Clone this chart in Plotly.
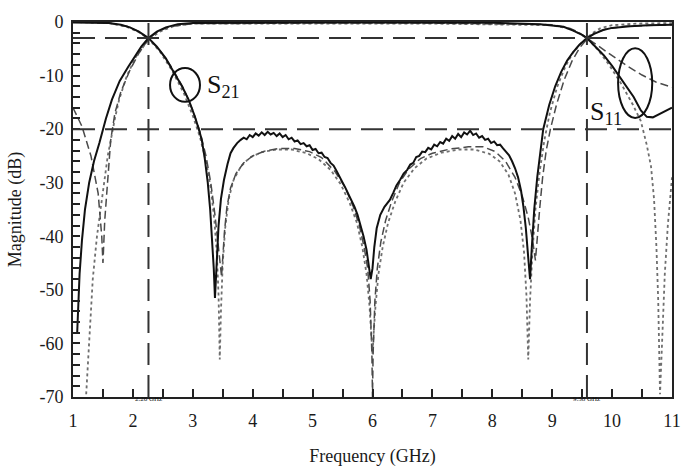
import plotly.graph_objects as go

# ---------------- data ----------------
# measured (solid)
s21_meas_f = [1.07, 1.09, 1.11, 1.15, 1.20, 1.27, 1.35, 1.44, 1.55, 1.65, 1.78, 1.92, 2.04, 2.14, 2.26,
              2.40, 2.55, 2.75, 3.0, 4.0, 5.0, 6.0, 7.0, 8.0, 8.8, 9.0, 9.19, 9.35, 9.5, 9.58, 9.7,
              9.86, 10.0, 10.11, 10.25, 10.36, 10.48, 10.58, 10.68, 10.78, 10.9, 11.0]
s21_meas_db = [-58, -52, -47, -40.7, -35, -30, -26, -22.6, -18, -14.5, -11, -8.4, -6.3, -4.6, -3,
               -1.8, -1.0, -0.4, -0.2, -0.1, -0.1, -0.1, -0.1, -0.15, -0.4, -0.6, -0.9, -1.6, -2.4, -3, -4.3,
               -6.2, -8.2, -10, -12.3, -14, -16.5, -17.7, -17.8, -17.2, -16.6, -16]

s11_meas_f = [1.0, 1.3, 1.6, 1.8, 1.95, 2.1, 2.26, 2.4, 2.55, 2.69, 2.82, 2.93, 3.03, 3.1, 3.15, 3.2, 3.25,
              3.29, 3.32, 3.35, 3.37, 3.40, 3.43, 3.47, 3.52, 3.58, 3.63, 3.68, 3.74, 3.8, 3.85, 3.9, 3.95,
              4.0, 4.05, 4.1, 4.15, 4.2, 4.25, 4.3, 4.35, 4.4, 4.45, 4.5, 4.55, 4.6, 4.65, 4.7, 4.75,
              4.8, 4.85, 4.9, 4.95, 5.0, 5.05, 5.1, 5.15, 5.2, 5.25, 5.3, 5.35, 5.4, 5.45, 5.5, 5.55,
              5.6, 5.65, 5.7, 5.75, 5.8, 5.85, 5.9, 5.94, 5.97, 6.0, 6.03, 6.07, 6.13, 6.2, 6.29, 6.35, 6.4,
              6.46, 6.52, 6.58, 6.63, 6.68, 6.73, 6.78, 6.83, 6.88, 6.93, 6.98, 7.03, 7.08, 7.13, 7.18,
              7.23, 7.28, 7.33, 7.38, 7.43, 7.48, 7.53, 7.58, 7.63, 7.68, 7.73, 7.78, 7.83, 7.88, 7.93,
              7.98, 8.03, 8.08, 8.13, 8.18, 8.23, 8.28, 8.33, 8.38, 8.43, 8.48, 8.52, 8.56, 8.6, 8.63,
              8.66, 8.7, 8.75, 8.8, 8.85, 8.95, 9.05, 9.15, 9.25, 9.35, 9.45, 9.58, 9.7, 9.85, 10.0,
              10.3, 10.6, 11.0]
s11_meas_db = [-0.1, -0.1, -0.2, -0.5, -1.0, -1.8, -3.0, -4.6, -6.8, -9.5, -12, -14.5, -17.5, -20, -22, -25.5, -30,
               -35, -40, -46, -51.5, -45, -38, -33, -29.5, -26.5, -24.5, -23.5, -22.6, -22.0, -21.6, -21.9, -21.1,
               -21.5, -20.8, -21.2, -20.6, -21.1, -20.5, -21.0, -20.7, -21.3, -20.8, -21.5, -21.1, -21.9, -21.6, -22.3, -22.1,
               -22.8, -22.6, -23.2, -23.0, -23.9, -23.7, -24.5, -24.4, -25.2, -25.4, -26.3, -26.8, -27.8, -28.8, -29.8, -31,
               -32.2, -33.3, -34.5, -36, -37.8, -40, -42.5, -45.5, -48, -46, -42, -38.5, -36, -34.5, -33.2, -31.8, -30.5,
               -29.5, -28.3, -27.6, -26.6, -26.3, -25.2, -25.0, -24.2, -24.3, -23.5, -23.8, -22.9, -23.2, -22.4, -22.7,
               -21.8, -22.2, -21.3, -21.8, -20.9, -21.5, -20.6, -21.0, -20.3, -21.1, -20.8, -21.6, -21.3, -22.0, -21.8,
               -22.6, -22.3, -23.0, -22.9, -23.6, -24.2, -24.9, -26, -27.3, -29, -31.5, -34.5, -38.5, -44, -48,
               -42, -35, -29, -24.5, -20, -15.5, -12, -9.3, -7.2, -5.6, -4.3, -3.0, -2.2, -1.5, -1.1,
               -0.8, -0.6, -0.5]

# simulation 1 (dashed)
s21_sim1_f = [1.0, 1.15, 1.3, 1.42, 1.48, 1.5, 1.53, 1.58, 1.63, 1.7, 1.8, 1.95, 2.1, 2.26, 2.4, 2.6, 3.0,
              5.0, 7.0, 9.0, 9.3, 9.45, 9.58, 9.75, 10.0, 10.25, 10.5, 10.73, 11.0]
s21_sim1_db = [-16, -19.5, -25, -32, -40, -45, -37, -30, -22, -17, -13, -9, -5.8, -3.2, -1.9, -0.9, -0.3,
               -0.2, -0.2, -0.5, -1.2, -2.0, -3.0, -4.2, -6.2, -8.2, -9.9, -11.2, -12.2]

s11_sim1_f = [1.0, 1.6, 1.9, 2.1, 2.26, 2.45, 2.65, 2.85, 3.0, 3.12, 3.22, 3.3, 3.37, 3.42, 3.46, 3.48, 3.5,
              3.53, 3.57, 3.63, 3.72, 3.85, 4.0, 4.2, 4.45, 4.7, 4.95, 5.15, 5.38, 5.55, 5.68, 5.78, 5.86,
              5.92, 5.96, 5.99, 6.0, 6.01, 6.04, 6.08, 6.14, 6.22, 6.32, 6.45, 6.6, 6.8, 7.0, 7.3, 7.6,
              7.85, 8.05, 8.22, 8.38, 8.5, 8.6, 8.67, 8.72, 8.75, 8.79, 8.84, 8.9, 8.97, 9.07, 9.2, 9.33,
              9.46, 9.58, 9.7, 9.9, 10.2, 10.6, 11.0]
s11_sim1_db = [0, -0.2, -0.8, -1.8, -3.1, -5.3, -8.5, -12.5, -16.5, -20.5, -25, -30, -36, -41, -45, -47.5, -44,
               -39, -34.5, -31, -28.3, -26.3, -25, -24.1, -23.6, -23.6, -24.2, -25.3, -28, -31, -34.5, -38, -42,
               -46, -52, -62, -70, -62, -52, -46, -41, -37, -33.5, -30, -27.5, -25.5, -24.5, -23.7, -23.3,
               -23.3, -24.2, -26, -29, -32.5, -36.5, -40.5, -44.5, -41, -35, -29, -24, -20, -15.5, -10.8, -7.3,
               -4.8, -3.2, -2.1, -1.3, -0.8, -0.6, -0.5]

# simulation 2 (dotted)
s21_sim2_f = [1.22, 1.26, 1.29, 1.33, 1.4, 1.48, 1.58, 1.7, 1.77, 1.9, 2.05, 2.26, 2.45, 2.7, 3.0, 5.0, 7.0,
              9.0, 9.3, 9.45, 9.58, 9.75, 9.95, 10.15, 10.35, 10.48, 10.58, 10.65, 10.7, 10.74, 10.77,
              10.8, 10.84, 10.88, 10.93, 11.0]
s21_sim2_db = [-69.5, -62, -55, -48, -40, -33, -25, -18, -14.5, -10, -6.5, -3.3, -1.8, -0.7, -0.3, -0.3, -0.3,
               -0.6, -1.3, -2.1, -3.0, -5, -8, -11.5, -15.5, -18.5, -23, -27, -33, -42, -52,
               -69.5, -58, -47, -38, -29]

s11_sim2_f = [1.0, 1.6, 1.9, 2.1, 2.26, 2.45, 2.65, 2.85, 3.0, 3.12, 3.22, 3.3, 3.36, 3.4, 3.43, 3.45, 3.47,
              3.5, 3.54, 3.6, 3.68, 3.8, 3.95, 4.15, 4.4, 4.65, 4.9, 5.1, 5.3, 5.47, 5.62, 5.74, 5.83,
              5.9, 5.95, 5.98, 6.0, 6.02, 6.05, 6.1, 6.17, 6.26, 6.38, 6.52, 6.7, 6.9, 7.15, 7.45, 7.7,
              7.95, 8.12, 8.27, 8.38, 8.47, 8.53, 8.57, 8.6, 8.63, 8.67, 8.72, 8.79, 8.87, 8.96, 9.08,
              9.22, 9.36, 9.48, 9.58, 9.68, 9.8, 10.0, 10.4, 11.0]
s11_sim2_db = [0, -0.2, -0.9, -1.9, -3.1, -5.5, -9, -13.3, -17.5, -21.5, -26, -31, -37, -43, -51, -63, -54,
               -45, -38.5, -33, -29.5, -27, -25.3, -24.3, -23.8, -23.8, -24.5, -25.6, -27.6, -30.3, -33.8, -37.5, -42,
               -47, -53, -58, -62, -58, -53, -47, -42, -37.5, -33.5, -30, -27.3, -25.5, -24.4, -23.8, -23.8,
               -24.6, -26, -28.5, -32, -37, -43, -51, -63, -52, -43, -35, -28, -22, -17, -12.2,
               -8.3, -5.5, -4, -3, -2, -1.2, -0.6, -0.3, -0.2]

x_ticks = [1, 2, 3, 4, 5, 6, 7, 8, 9, 10, 11]
y_ticks = [0, -10, -20, -30, -40, -50, -60, -70]
f_low, f_high = 2.26, 9.58
level_3db, level_20db = -3, -20

SERIF = "Liberation Serif"
INK = "#1a1a1a"

fig = go.Figure()

sim2_style = dict(color="#6f6f6f", width=1.8, dash="dot")
sim1_style = dict(color="#4a4a4a", width=1.5, dash="8px,4px")
meas_style = dict(color="#111111", width=2)

for f, v in [(s21_sim2_f, s21_sim2_db), (s11_sim2_f, s11_sim2_db)]:
    fig.add_trace(go.Scatter(x=f, y=v, mode="lines", line=sim2_style, showlegend=False))
for f, v in [(s21_sim1_f, s21_sim1_db), (s11_sim1_f, s11_sim1_db)]:
    fig.add_trace(go.Scatter(x=f, y=v, mode="lines", line=sim1_style, showlegend=False))
for f, v in [(s21_meas_f, s21_meas_db), (s11_meas_f, s11_meas_db)]:
    fig.add_trace(go.Scatter(x=f, y=v, mode="lines", line=meas_style, showlegend=False))

ref_line = dict(color="#333333", width=2, dash="22px,10px")
for lv in (level_3db, level_20db):
    fig.add_shape(type="line", xref="paper", x0=0, x1=1, yref="y", y0=lv, y1=lv, line=ref_line)
for fv in (f_low, f_high):
    fig.add_shape(type="line", xref="x", x0=fv, x1=fv, yref="paper", y0=0, y1=1, line=ref_line)

# label circles
fig.add_shape(type="circle", xref="x", yref="y", x0=2.62, x1=3.12, y0=-14.9, y1=-8.6,
              line=dict(color="#111", width=2))
fig.add_shape(type="circle", xref="x", yref="y", x0=10.1, x1=10.67, y0=-17.9, y1=-4.9,
              line=dict(color="#111", width=2))

fig.add_annotation(x=3.2, y=-12.0, text="S<sub>21</sub>", showarrow=False, xanchor="left",
                   yanchor="middle", font=dict(family=SERIF, size=26, color="#111"))
fig.add_annotation(x=9.6, y=-17.0, text="S<sub>11</sub>", showarrow=False, xanchor="left",
                   yanchor="middle", font=dict(family=SERIF, size=26, color="#111"))

fig.add_annotation(x=f_low, y=0, yref="paper", yshift=-8, text="2.26 GHz", showarrow=False,
                   font=dict(family=SERIF, size=7, color="#111"))
fig.add_annotation(x=f_high, y=0, yref="paper", yshift=-8, text="9.58 GHz", showarrow=False,
                   font=dict(family=SERIF, size=7, color="#111"))

fig.update_xaxes(range=[1, 11], tickvals=x_ticks, ticktext=[str(v) for v in x_ticks],
                 ticks="inside", ticklen=8, tickwidth=1.5, tickcolor="#222",
                 minor=dict(dtick=0.5, ticks="inside", ticklen=8, tickwidth=1.5, tickcolor="#222"),
                 showline=True, linecolor="#222", linewidth=2, mirror=True, showgrid=False,
                 zeroline=False, tickfont=dict(family=SERIF, size=18, color=INK),
                 ticklabelstandoff=6, automargin=False,
                 title=dict(text="Frequency (GHz)", font=dict(family=SERIF, size=18, color=INK),
                            standoff=20))
fig.update_yaxes(range=[-70, 0], tickvals=y_ticks, ticktext=[str(v) for v in y_ticks],
                 ticks="inside", ticklen=7, tickwidth=1.5, tickcolor="#222",
                 minor=dict(dtick=2, ticks="inside", ticklen=7, tickwidth=1.5, tickcolor="#222"),
                 showline=True, linecolor="#222", linewidth=2, mirror=True, showgrid=False,
                 zeroline=False, tickfont=dict(family=SERIF, size=18, color=INK),
                 ticklabelstandoff=4, automargin=False,
                 title=dict(text="Magnitude (dB)", font=dict(family=SERIF, size=18, color=INK),
                            standoff=13))

fig.update_layout(width=687, height=467, margin=dict(l=73, r=15, t=22, b=70),
                  plot_bgcolor="white", paper_bgcolor="white")

fig.write_html("out.html")
